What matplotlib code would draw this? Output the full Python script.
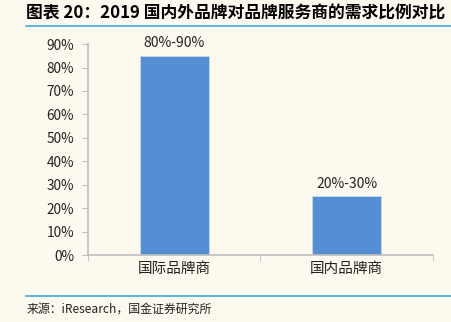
import matplotlib
matplotlib.use('Agg')
import numpy as np
from matplotlib import pyplot as plt

plt.rcParams['font.family'] = ['Noto Sans CJK SC', 'DejaVu Sans']

# 数据
categories = ['国际品牌商', '国内品牌商']
values = [85, 25]
labels = ['80%-90%', '20%-30%']
yticks = [0, 10, 20, 30, 40, 50, 60, 70, 80, 90]

bg = '#FDF9EF'
fig = plt.figure(figsize=(4.52, 3.22), dpi=100, facecolor=bg)
ax = fig.add_axes([0.1947, 0.208, 0.763, 0.655], facecolor=bg)

x = np.arange(len(categories))
ax.bar(x, values, width=0.4, color='#558ED5', edgecolor='#C6D9F1', linewidth=0.6)
for xi, v, t in zip(x, values, labels):
    ax.text(xi, v + 2.5, t, ha='center', va='bottom', fontsize=10, color='#222222')

ax.set_xlim(-0.5, 1.5)
ax.set_ylim(0, 90)
ax.set_yticks(yticks)
ax.set_yticklabels(['%d%%' % t for t in yticks], fontsize=9.8, color='#222222')
ax.set_xticks(x)
ax.set_xticklabels(categories, fontsize=10.5, color='#222222')
ax.tick_params(axis='x', length=0, pad=5)
ax.set_xticks([-0.5, 0.5, 1.5], minor=True)
ax.tick_params(axis='x', which='minor', length=4, color='#BFBFBF')
ax.tick_params(axis='y', length=4, color='#BFBFBF', pad=6)

for s in ['top', 'right']:
    ax.spines[s].set_visible(False)
for s in ['left', 'bottom']:
    ax.spines[s].set_color('#BFBFBF')
    ax.spines[s].set_linewidth(1.2)

# 标题与来源
fig.text(0.058, 0.958, '图表 20：2019 国内外品牌对品牌服务商的需求比例对比', fontsize=12.1,
         fontweight='bold', fontstyle='italic', ha='left', va='center')
fig.add_artist(plt.Line2D([0.058, 1.0], [0.919, 0.919], color='#3FA9E0', linewidth=1.2))
fig.add_artist(plt.Line2D([0.058, 1.0], [0.081, 0.081], color='#3FA9E0', linewidth=1.2))
fig.text(0.06, 0.04, '来源：iResearch，国金证券研究所', fontsize=8.6, ha='left', va='center',
         color='#222222')

plt.savefig('out.png', dpi=100, facecolor=bg)
